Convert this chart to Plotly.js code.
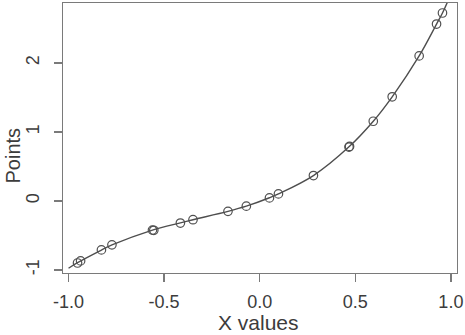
<!DOCTYPE html>
<html>
<head>
<meta charset="utf-8">
<script src="https://cdn.plot.ly/plotly-3.0.1.min.js"></script>
<style>html,body{margin:0;padding:0;background:#fff;}#chart{width:465px;height:335px;}</style>
</head>
<body>
<div id="chart"></div>
<script>
// observed points
var pointsX = [-0.953, -0.937, -0.828, -0.773, -0.561, -0.554, -0.415, -0.349, -0.166, -0.070, 0.051, 0.098, 0.281, 0.467, 0.470, 0.594, 0.693, 0.834, 0.925, 0.956];
var pointsY = [-0.899, -0.869, -0.709, -0.636, -0.422, -0.425, -0.320, -0.272, -0.151, -0.076, 0.044, 0.102, 0.368, 0.781, 0.790, 1.155, 1.509, 2.101, 2.563, 2.723];
// fitted curve
var curveX = [-1.0, -0.953, -0.828, -0.773, -0.561, -0.415, -0.349, -0.166, -0.070, 0.051, 0.098, 0.281, 0.467, 0.594, 0.693, 0.834, 0.925, 0.956, 0.985];
var curveY = [-0.975, -0.895, -0.712, -0.638, -0.422, -0.318, -0.272, -0.151, -0.076, 0.046, 0.102, 0.368, 0.784, 1.155, 1.509, 2.101, 2.563, 2.723, 2.90];
var xTicks = [-1.0, -0.5, 0.0, 0.5, 1.0];
var xTickText = ["-1.0", "-0.5", "0.0", "0.5", "1.0"];
var yTicks = [-1, 0, 1, 2];
var yTickText = ["-1", "0", "1", "2"];

var font = "Liberation Sans, Arial, Helvetica, sans-serif";
var traces = [
  {x: curveX, y: curveY, type: "scatter", mode: "lines",
   line: {color: "#4e4e4e", width: 1.4, shape: "spline", smoothing: 1}, hoverinfo: "skip"},
  {x: pointsX, y: pointsY, type: "scatter", mode: "markers",
   marker: {symbol: "circle-open", size: 8.5, color: "#505050", line: {width: 1.2, color: "#505050"}}}
];
var axisCommon = {
  showline: true, mirror: true, linecolor: "#7a7a7a", linewidth: 1.3,
  ticks: "outside", ticklen: 8, tickwidth: 1.3, tickcolor: "#7a7a7a",
  showgrid: false, zeroline: false,
  tickfont: {family: font, size: 18, color: "#3c3c3c"}
};
var layout = {
  width: 465, height: 335,
  margin: {l: 63, r: 8, t: 3, b: 62},
  paper_bgcolor: "#ffffff", plot_bgcolor: "#ffffff",
  showlegend: false,
  xaxis: Object.assign({}, axisCommon, {range: [-1.029, 1.032], tickvals: xTicks, ticktext: xTickText, ticklabelstandoff: 4}),
  yaxis: Object.assign({}, axisCommon, {range: [-1.044, 2.868], tickvals: yTicks, ticktext: yTickText, tickangle: -90, ticklabelstandoff: 8}),
  annotations: [
    {text: "X values", xref: "paper", yref: "paper", x: 0.497, y: -0.185, yanchor: "middle", xanchor: "center",
     showarrow: false, font: {family: font, size: 21, color: "#3c3c3c"}},
    {text: "Points", xref: "paper", yref: "paper", x: -0.127, y: 0.435, xanchor: "center", yanchor: "middle", textangle: -90,
     showarrow: false, font: {family: font, size: 20, color: "#3c3c3c"}}
  ]
};
Plotly.newPlot("chart", traces, layout, {displayModeBar: false, staticPlot: true});
</script>
</body>
</html>
